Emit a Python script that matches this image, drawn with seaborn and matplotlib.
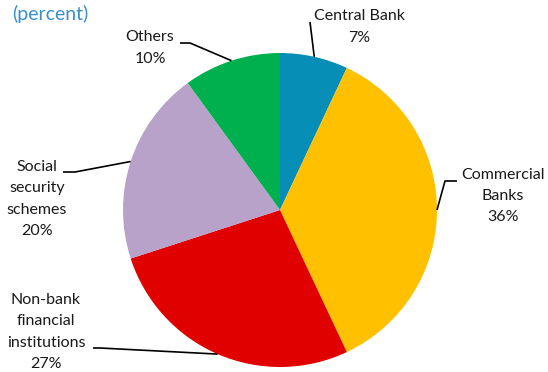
import numpy as np
import matplotlib
matplotlib.use("Agg")
import matplotlib.pyplot as plt
import seaborn as sns

# ── Données ──────────────────────────────────────────────────
labels = ["Central Bank", "Commercial\nBanks", "Non-bank\nfinancial\ninstitutions",
          "Social\nsecurity\nschemes", "Others"]
shares = [7, 36, 27, 20, 10]
colors = ["#078EB6", "#FFC000", "#E00000", "#B8A2CA", "#00B04F"]

sns.set_style("white")
plt.rcParams["font.family"] = ["Lato", "DejaVu Sans"]

W, H = 548, 372
fig = plt.figure(figsize=(W / 100, H / 100), dpi=100)
ax = fig.add_axes([0, 0, 1, 1])

# centre / rayon en pixels (axe y vers le haut)
cx, cy, R = 280, H - 210, 157
wedges, _ = ax.pie(shares, colors=colors, startangle=90, counterclock=False,
                   center=(cx, cy), radius=R, frame=False,
                   wedgeprops={"linewidth": 0})
ax.set_xlim(0, W)
ax.set_ylim(0, H)
ax.set_aspect("equal")
ax.axis("off")

# ── Étiquettes avec traits de rappel ──────────────────────────
# (position du texte, coude du trait, début du trait) en pixels image
label_layout = [
    ((359, 27), (310, 22), (310, 22)),
    ((503, 196), (457, 181), (445, 181)),
    ((46, 332), (93, 348), (100, 348)),
    ((37, 199), (63, 172), (75, 172)),
    ((150, 48), (180, 43), (190, 43)),
]

for w, lab, pct, (txt, p0, p1) in zip(wedges, labels, shares, label_layout):
    mid = np.deg2rad((w.theta1 + w.theta2) / 2)
    ex, ey = cx + R * np.cos(mid), cy + R * np.sin(mid)
    xs = [p0[0], p1[0], ex]
    ys = [H - p0[1], H - p1[1], ey]
    ax.plot(xs, ys, color="black", lw=1.2, solid_capstyle="butt")
    ax.text(txt[0], H - txt[1], f"{lab}\n{pct}%", ha="center", va="center",
            fontsize=11.5, color="#1a1a1a", linespacing=1.68)

ax.text(12, H - 14, "(percent)", ha="left", va="center",
        fontsize=14, color="#3A8FCB")

fig.savefig("out.png", dpi=100)
